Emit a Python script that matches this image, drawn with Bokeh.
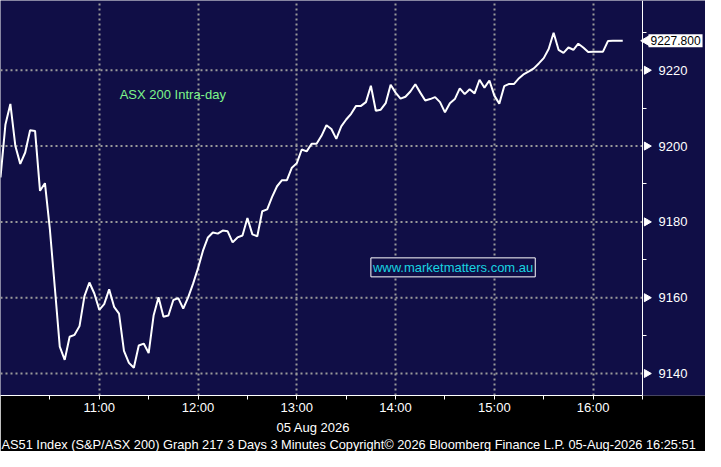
import math
from bokeh.plotting import figure
from bokeh.models import Range1d, LinearAxis, FixedTicker, Label, Title
from bokeh.embed import file_html
from bokeh.resources import INLINE

# ---- data (3-minute bars, minutes after 10:00) ----
minutes = list(range(0, 381, 3))
values = [
    9191.7, 9205.7, 9211.1, 9200.1, 9195.3, 9198.3, 9204.2, 9204.0, 9188.2, 9190.2,
    9178.0, 9162.7, 9147.1, 9143.6, 9149.7, 9150.2, 9152.5, 9160.4, 9164.0, 9161.1,
    9156.8, 9158.3, 9162.2, 9157.6, 9155.8, 9146.0, 9142.8, 9141.5, 9147.4, 9147.9,
    9145.4, 9155.3, 9160.1, 9155.0, 9155.3, 9159.4, 9159.9, 9157.1, 9160.1, 9163.7,
    9167.8, 9172.4, 9175.9, 9177.2, 9176.9, 9177.7, 9177.5, 9174.6, 9175.9, 9176.4,
    9181.0, 9176.7, 9176.2, 9182.8, 9183.3, 9186.6, 9189.4, 9191.0, 9191.0, 9194.3,
    9195.5, 9199.1, 9198.6, 9200.6, 9200.6, 9202.7, 9205.5, 9204.5, 9201.9, 9205.2,
    9207.0, 9208.5, 9210.6, 9210.6, 9211.6, 9215.9, 9209.3, 9209.6, 9211.3, 9216.2,
    9214.1, 9212.5, 9213.0, 9214.4, 9216.3, 9214.1, 9212.0, 9212.4, 9212.9, 9211.6,
    9208.9, 9211.3, 9212.4, 9215.2, 9213.7, 9215.0, 9213.9, 9217.5, 9215.4, 9217.3,
    9213.3, 9211.2, 9215.8, 9216.4, 9216.4, 9217.9, 9219.0, 9219.7, 9220.5, 9221.8,
    9223.2, 9225.6, 9229.9, 9225.4, 9224.6, 9226.0, 9225.4, 9227.0, 9226.0, 9224.8,
    9224.9, 9224.9, 9224.9, 9227.7, 9227.8, 9227.8, 9227.8,
]
x_tick_pos = [30, 60, 90, 120, 150, 180, 210, 240, 270, 300, 330, 360, 390]
x_tick_labels = ["", "11:00", "", "12:00", "", "13:00", "", "14:00", "", "15:00", "", "16:00", ""]
x_grid_pos = [60, 120, 180, 240, 300, 360]
y_ticks = [9140, 9160, 9180, 9200, 9220]
y_minor = [9150, 9170, 9190, 9210, 9230]
last_value = 9227.8
last_value_text = "9227.800"
series_title = "ASX 200 Intra-day"
watermark = "www.marketmatters.com.au"
date_text = "05 Aug 2026"
footer = ("AS51 Index (S&P/ASX 200) Graph 217 3 Days 3 Minutes "
          "Copyright\u00a9 2026 Bloomberg Finance L.P. 05-Aug-2026 16:25:51")

NAVY = "#100e46"
FONT = "Liberation Sans"
X_END = 390          # right edge of the chart area (axis position)
PX_PER_MIN = 642 / 390.0

p = figure(width=705, height=451, output_backend="svg", toolbar_location=None,
           x_range=Range1d(0, 705 / PX_PER_MIN), y_range=Range1d(9134.2, 9238.4),
           x_axis_location=None, y_axis_location=None,
           min_border_left=0, min_border_top=0, min_border_right=0, min_border_bottom=50)
p.background_fill_color = NAVY
p.border_fill_color = "black"
p.outline_line_color = None

# bottom axis
xa = LinearAxis(ticker=FixedTicker(ticks=x_tick_pos), bounds=(0, X_END))
xa.major_label_overrides = {t: l for t, l in zip(x_tick_pos, x_tick_labels)}
xa.axis_line_color = "white"
xa.major_tick_line_color = "white"
xa.major_tick_in = 0
xa.major_tick_out = 4
xa.minor_tick_line_color = None
xa.major_label_text_color = "white"
xa.major_label_text_font = FONT
xa.major_label_text_font_size = "13px"
xa.major_label_standoff = 0
p.add_layout(xa, "below")

p.add_layout(Title(text=date_text, align="left", offset=276, standoff=0,
                   text_color="white", text_font=FONT, text_font_size="13px",
                   text_font_style="normal"), "below")
p.add_layout(Title(text=footer, align="left", offset=1, standoff=0,
                   text_color="white", text_font=FONT, text_font_size="12.8px",
                   text_font_style="normal"), "below")

# right axis fixed at the chart edge
ya = LinearAxis(ticker=FixedTicker(ticks=y_ticks, minor_ticks=y_minor),
                fixed_location=X_END)
ya.axis_line_color = "white"
ya.major_tick_line_color = None
ya.minor_tick_line_color = "white"
ya.minor_tick_in = 0
ya.minor_tick_out = 4
ya.major_label_text_color = "white"
ya.major_label_text_font = FONT
ya.major_label_text_font_size = "13px"
ya.major_label_standoff = 10
p.add_layout(ya, "right")

# tick arrows on the right axis
p.scatter([X_END + 4.2 / PX_PER_MIN] * len(y_ticks), y_ticks, marker="triangle",
          angle=-math.pi / 2, size=8, fill_color="white", line_color="white")

# grid
p.xgrid.ticker = FixedTicker(ticks=x_grid_pos)
p.xgrid.grid_line_color = "#9a9a9a"
p.xgrid.grid_line_dash = "2 3"
p.xgrid.grid_line_width = 2
p.ygrid.visible = False
p.segment(x0=[0] * len(y_ticks), x1=[X_END] * len(y_ticks), y0=y_ticks, y1=y_ticks,
          line_color="#9a9a9a", line_dash="2 3", line_width=2)

p.line(minutes, values, line_color="white", line_width=2)

p.add_layout(Label(x=72.4, y=9213.6, text=series_title, text_color="#7df58a",
                   text_font=FONT, text_font_size="13px",
                   text_align="left", text_baseline="middle"))
p.add_layout(Label(x=225, y=9168, text=watermark, text_color="#18d4e0",
                   text_font=FONT, text_font_size="13px",
                   text_baseline="middle", padding=2,
                   background_fill_color=NAVY, border_line_color="white",
                   border_line_width=1))

# last-value tag
p.scatter([X_END + 4 / PX_PER_MIN], [last_value], marker="triangle",
          angle=math.pi / 2, size=10, fill_color="white", line_color="white")
p.add_layout(Label(x=X_END + 6 / PX_PER_MIN, y=last_value, text=last_value_text,
                   text_color="black", text_font=FONT, text_font_size="12px",
                   text_baseline="middle", padding=2, background_fill_color="white"))

open("out.html", "w").write(file_html(p, INLINE))
